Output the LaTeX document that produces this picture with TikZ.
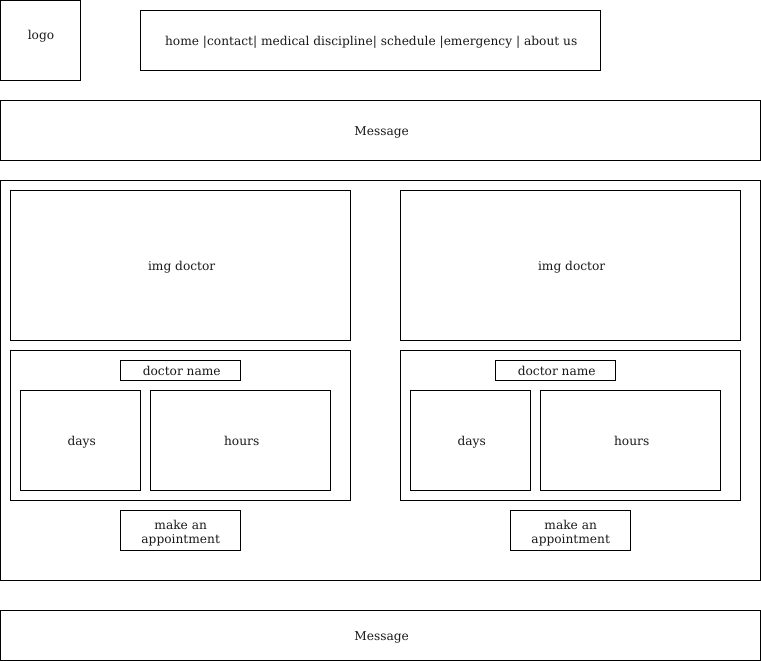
\documentclass[tikz,border=0pt]{standalone}
\usepackage{fontspec}
\setmainfont{DejaVu Serif}
% uniform line height for single-line labels
\newcommand{\lineph}{\vphantom{dy}}
\begin{document}
\begin{tikzpicture}[x=1pt,y=-1pt,
  box/.style={draw=black, line width=1pt, inner sep=0pt, anchor=north west},
  lbl/.style={font=\fontsize{12.2}{14}\selectfont, inner sep=0pt, align=center, text=black!90}]
\useasboundingbox (0,0) rectangle (761,661);
% header
\node[box, minimum width=80pt, minimum height=80pt] (logo) at (0.2,0.2) {};
\node[lbl] (logotxt) at (41,36) {logo};
\node[box, minimum width=460pt, minimum height=60pt] (nav) at (140.2,10.2) {};
\node[lbl] (navtxt) at ([shift={(0.5,2)}]nav.center) {home |contact| medical discipline| schedule |emergency | about us};
\node[box, minimum width=760pt, minimum height=60pt] (msg) at (0.2,100.2) {};
\node[lbl] (msgtxt) at ([shift={(1,2)}]msg.center) {Message\lineph};
% doctors area
\node[box, minimum width=760pt, minimum height=400pt] (main) at (0.2,180.2) {};
% left doctor
\node[box, minimum width=340pt, minimum height=150pt] (imgL) at (10.2,190.2) {};
\node[lbl] (imgLtxt) at ([shift={(1,2)}]imgL.center) {img doctor\lineph};
\node[box, minimum width=340pt, minimum height=150pt] (infoL) at (10.2,350.2) {};
\node[box, minimum width=120pt, minimum height=20pt] (nameL) at (120.2,360.2) {};
\node[lbl] (nameLtxt) at ([shift={(1,2)}]nameL.center) {doctor name\lineph};
\node[box, minimum width=120pt, minimum height=100pt] (daysL) at (20.2,390.2) {};
\node[lbl] (daysLtxt) at ([shift={(1,2)}]daysL.center) {days\lineph};
\node[box, minimum width=180pt, minimum height=100pt] (hoursL) at (150.2,390.2) {};
\node[lbl] (hoursLtxt) at ([shift={(1,2)}]hoursL.center) {hours\lineph};
\node[box, minimum width=120pt, minimum height=40pt] (apptL) at (120.2,510.2) {};
\node[lbl] (apptLtxt) at ([shift={(0,2)}]apptL.center) {make an\\appointment};
% right doctor
\node[box, minimum width=340pt, minimum height=150pt] (imgR) at (400.2,190.2) {};
\node[lbl] (imgRtxt) at ([shift={(1,2)}]imgR.center) {img doctor\lineph};
\node[box, minimum width=340pt, minimum height=150pt] (infoR) at (400.2,350.2) {};
\node[box, minimum width=120pt, minimum height=20pt] (nameR) at (495.2,360.2) {};
\node[lbl] (nameRtxt) at ([shift={(1,2)}]nameR.center) {doctor name\lineph};
\node[box, minimum width=120pt, minimum height=100pt] (daysR) at (410.2,390.2) {};
\node[lbl] (daysRtxt) at ([shift={(1,2)}]daysR.center) {days\lineph};
\node[box, minimum width=180pt, minimum height=100pt] (hoursR) at (540.2,390.2) {};
\node[lbl] (hoursRtxt) at ([shift={(1,2)}]hoursR.center) {hours\lineph};
\node[box, minimum width=120pt, minimum height=40pt] (apptR) at (510.2,510.2) {};
\node[lbl] (apptRtxt) at ([shift={(0,2)}]apptR.center) {make an\\appointment};
% footer
\node[box, minimum width=760pt, minimum height=50pt] (foot) at (0.2,610.2) {};
\node[lbl] (foottxt) at ([shift={(1,2)}]foot.center) {Message\lineph};
\end{tikzpicture}
\end{document}
